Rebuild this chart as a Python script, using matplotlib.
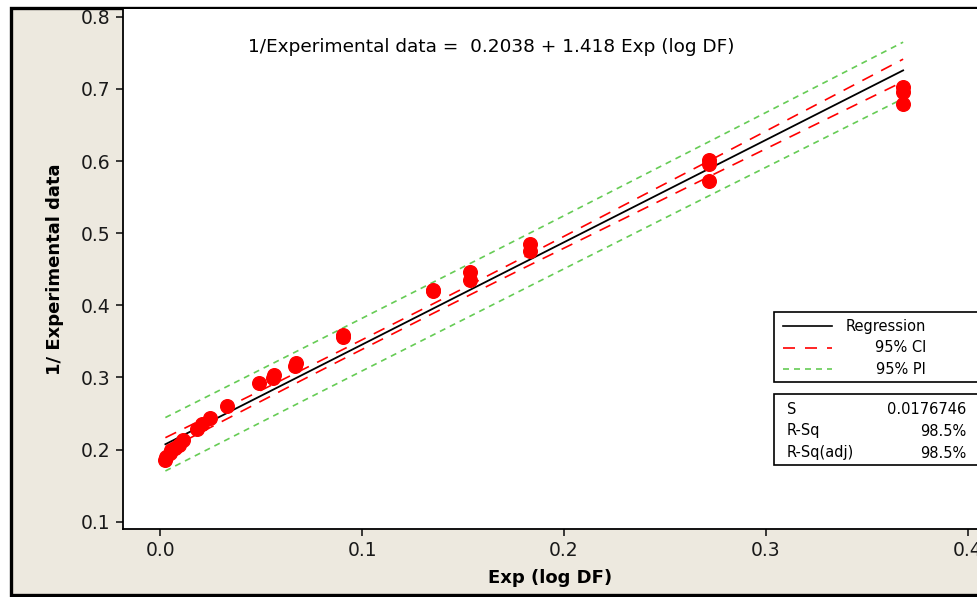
import numpy as np
import matplotlib as mpl
mpl.use('Agg')
import matplotlib.pyplot as plt
from matplotlib.patches import Rectangle
from matplotlib.lines import Line2D

# dados
exp_log_df = [0.0025, 0.0030, 0.0048, 0.0055, 0.0073, 0.0090, 0.0114, 0.0180,
              0.0205, 0.0246, 0.0332, 0.0490, 0.0560, 0.0565, 0.0668, 0.0670,
              0.0904, 0.0906, 0.1350, 0.1352, 0.1535, 0.1535, 0.1829, 0.1829,
              0.2720, 0.2720, 0.2720, 0.3680, 0.3680, 0.3680]
inv_exp_data = [0.185, 0.190, 0.195, 0.199, 0.202, 0.206, 0.213, 0.228,
                0.235, 0.244, 0.260, 0.292, 0.299, 0.304, 0.316, 0.320,
                0.356, 0.359, 0.420, 0.421, 0.435, 0.446, 0.475, 0.485,
                0.572, 0.596, 0.601, 0.679, 0.696, 0.702]

# resultados da regressao (Minitab)
b0 = 0.2038
b1 = 1.418
S = 0.0176746
r_sq = 98.5
r_sq_adj = 98.5
t_crit = 2.03

x = np.array(exp_log_df)
n = len(x)
xm = x.mean()
sxx = np.sum((x - xm) ** 2)
xs = np.unique(x)
yfit = b0 + b1 * xs
se_fit = S * np.sqrt(1.0 / n + (xs - xm) ** 2 / sxx)
se_pred = S * np.sqrt(1.0 + 1.0 / n + (xs - xm) ** 2 / sxx)

W, H = 977, 597
fig = plt.figure(figsize=(W / 100, H / 100), dpi=100)
fig.patch.set_facecolor('white')

def fx(px):
    return px / W

def fy(py):
    return 1 - py / H

# moldura bege
fig.add_artist(Rectangle((fx(11), fy(595)), fx(1000) - fx(11), fy(8) - fy(595),
                         transform=fig.transFigure, facecolor='#EDE9DF',
                         edgecolor='black', linewidth=2.4, zorder=0))

ax = fig.add_axes([fx(123), fy(529), 1 - fx(123), fy(9) - fy(529)])
ax.set_facecolor('white')
ax.set_zorder(1)

ax.plot(xs, yfit + t_crit * se_pred, color='#66CC55', lw=1.2, linestyle=(0, (3.6, 3.0)))
ax.plot(xs, yfit - t_crit * se_pred, color='#66CC55', lw=1.2, linestyle=(0, (3.6, 3.0)))
ax.plot(xs, yfit + t_crit * se_fit, color='#FF0000', lw=1.2, linestyle=(0, (7.2, 5.5)))
ax.plot(xs, yfit - t_crit * se_fit, color='#FF0000', lw=1.2, linestyle=(0, (7.2, 5.5)))
ax.plot(xs, yfit, color='black', lw=1.3)
ax.plot(exp_log_df, inv_exp_data, 'o', color='#FF0000', markersize=9.8, zorder=5)

ax.set_xlim(-0.0185, 0.4046)
ax.set_ylim(0.0899, 0.8107)
ax.set_xticks([0.0, 0.1, 0.2, 0.3, 0.4])
ax.set_xticklabels(['0.0', '0.1', '0.2', '0.3', '0.4'])
ax.set_yticks([0.1, 0.2, 0.3, 0.4, 0.5, 0.6, 0.7, 0.8])
ax.set_yticklabels(['0.1', '0.2', '0.3', '0.4', '0.5', '0.6', '0.7', '0.8'])
ax.tick_params(labelsize=13.5, length=5, width=1.2, colors='#1a1a1a', pad=4)
ax.spines['top'].set_visible(False)
ax.spines['right'].set_visible(False)
ax.spines['left'].set_linewidth(1.3)
ax.spines['bottom'].set_linewidth(1.3)

ax.set_xlabel('Exp (log DF)', fontsize=13, fontweight='bold', labelpad=6)
ax.set_ylabel('1/ Experimental data', fontsize=13, fontweight='bold', labelpad=12)

fig.text(fx(491), fy(47), '1/Experimental data =  0.2038 + 1.418 Exp (log DF)',
         fontsize=13.3, ha='center', va='center', zorder=3)

# caixa da legenda
fig.add_artist(Rectangle((fx(774), fy(382)), fx(300), fy(312) - fy(382),
                         transform=fig.transFigure, facecolor='white',
                         edgecolor='black', linewidth=1.2, zorder=4))
leg = [('Regression', 'black', '-', 326), ('95% CI', '#FF0000', (0, (7.2, 6.0)), 348),
       ('95% PI', '#66CC55', (0, (3.6, 3.0)), 369)]
for lab, cor, ls, yy in leg:
    fig.add_artist(Line2D([fx(783), fx(832)], [fy(yy), fy(yy)], transform=fig.transFigure,
                          color=cor, lw=1.2, linestyle=ls, zorder=5))
    fig.text(fx(926), fy(yy), lab, fontsize=10.5, ha='right', va='center', zorder=6)

# caixa das estatisticas
fig.add_artist(Rectangle((fx(774), fy(465)), fx(300), fy(394) - fy(465),
                         transform=fig.transFigure, facecolor='white',
                         edgecolor='black', linewidth=1.2, zorder=4))
stats = [('S', f'{S}', 409), ('R-Sq', f'{r_sq:.1f}%', 431), ('R-Sq(adj)', f'{r_sq_adj:.1f}%', 453)]
for lab, val, yy in stats:
    fig.text(fx(787), fy(yy), lab, fontsize=10.5, ha='left', va='center', zorder=6)
    fig.text(fx(966), fy(yy), val, fontsize=10.5, ha='right', va='center', zorder=6)

plt.savefig('out.png', dpi=100)
plt.close()
